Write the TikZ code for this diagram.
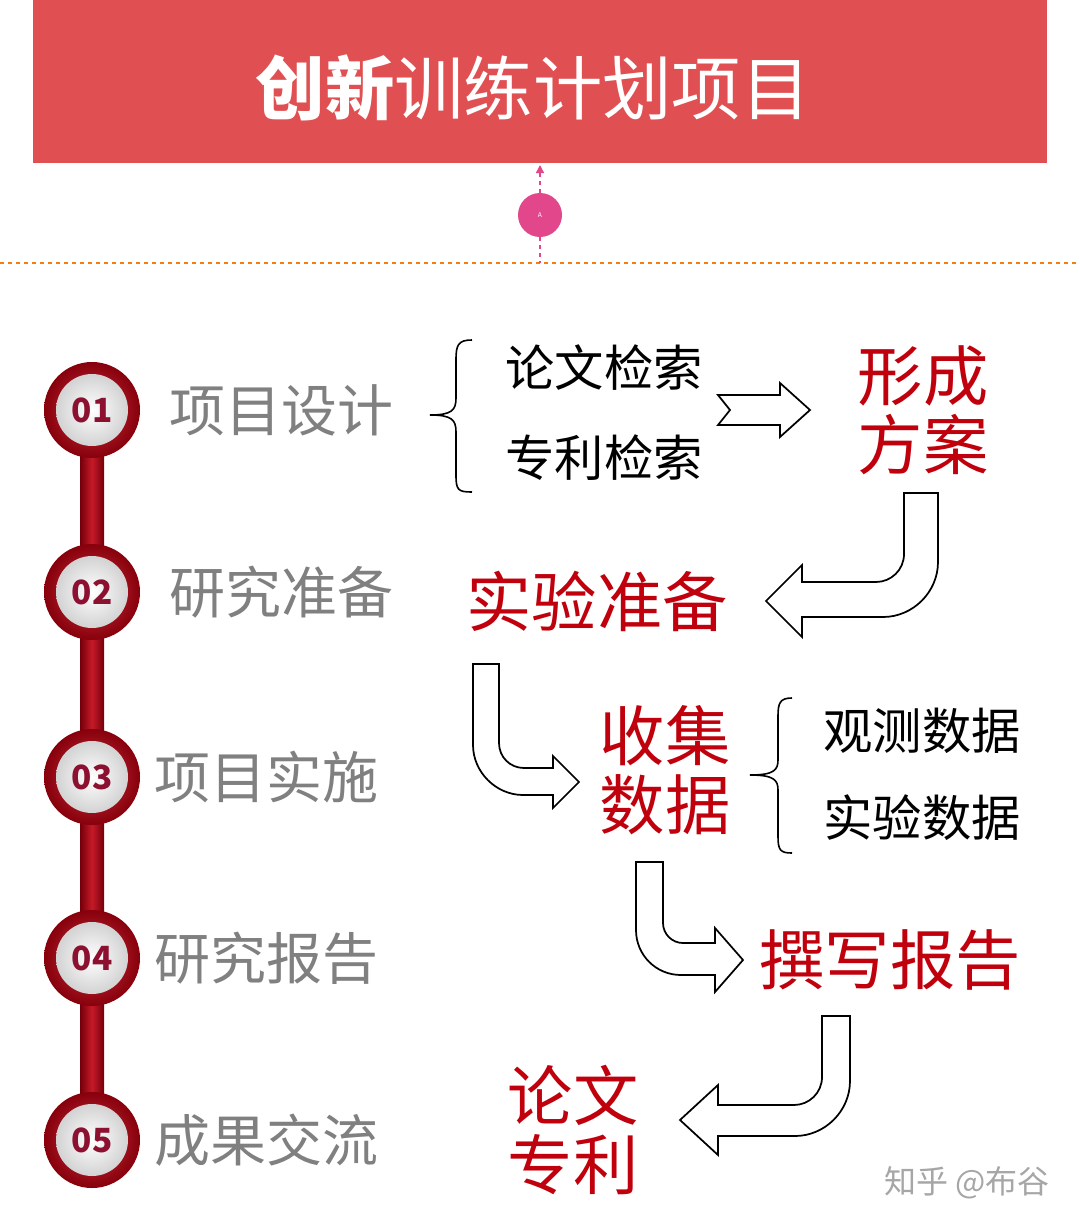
\documentclass[tikz,border=0pt]{standalone}
\usepackage{fontspec}
\setmainfont{Noto Sans CJK SC}
\usetikzlibrary{arrows.meta}
\definecolor{hdr}{HTML}{E05052}
\definecolor{dred}{HTML}{C00010}
\definecolor{tred}{HTML}{C0000C}
\definecolor{gtx}{HTML}{808080}
\definecolor{pinkc}{HTML}{E2478C}
\definecolor{numc}{HTML}{8C1030}
\tikzset{
 px/.style={x=0.75pt,y=-0.75pt},
 gray lbl/.style={text=gtx,font=\fontsize{42}{46}\selectfont,anchor=west},
 blk lbl/.style={text=black,font=\fontsize{37}{40}\selectfont},
 red lbl/.style={text=tred,font=\fontsize{49}{58}\selectfont,align=center},
 barrow/.style={draw=black,line width=1.3pt,fill=white,line join=miter},
 brc/.style={draw=black,line width=1.2pt},
}
\newcommand{\stepnode}[3]{%
 \shade[inner color=dred!80!white,outer color=dred!70!black] (92,#1) circle (48);
 \shade[inner color=white,outer color=gray!35] (92,#1) circle (36);
 \node[text=numc,font=\fontsize{25}{28}\selectfont\bfseries] (n#2) at (92,#1) {#3};
}
\begin{document}
\begin{tikzpicture}[px]
\useasboundingbox (0,0) rectangle (1080,1228);
\fill[white] (0,0) rectangle (1080,1228);
% header
\fill[hdr] (33,0) rectangle (1047,163);
\node[text=white,font=\fontsize{52}{56}\selectfont] (title) at (533,88) {\textbf{创新}训练计划项目};
\draw[orange!80!brown,dashed,line width=1pt] (0,263) -- (1080,263);
\node[circle,fill=pinkc,minimum size=33pt,inner sep=0pt,text=white,font=\tiny] (pc) at (540,215) {A};
\draw[pinkc,dashed,line width=1pt,-{Triangle[length=6pt,width=6pt]}] (pc.north) -- (540,165);
\draw[pinkc,dashed,line width=1pt] (pc.south) -- (540,263);
% timeline bar
\shade[left color=dred!60!black,right color=dred!60!black,middle color=dred!90!white] (80,410) rectangle (104,1140);
\stepnode{410}{1}{01}
\stepnode{592}{2}{02}
\stepnode{777}{3}{03}
\stepnode{958}{4}{04}
\stepnode{1140}{5}{05}
\node[gray lbl] (g1) at (165,410) {项目设计};
\node[gray lbl] (g2) at (165,592) {研究准备};
\node[gray lbl] (g3) at (150,777) {项目实施};
\node[gray lbl] (g4) at (150,958) {研究报告};
\node[gray lbl] (g5) at (150,1140) {成果交流};
% step 1
\draw[brc] (472,340) .. controls (458,340) and (456,345) .. (456,360) -- (456,398) .. controls (456,410) and (452,415) .. (430,415) .. controls (452,415) and (456,420) .. (456,432) -- (456,475) .. controls (456,490) and (458,492) .. (472,492);
\node[blk lbl] (b1) at (604,368) {论文检索};
\node[blk lbl] (b2) at (604,458) {专利检索};
\draw[barrow] (718,395) -- (780,395) -- (780,383) -- (810,410) -- (780,437) -- (780,425) -- (718,425) -- (730,410) -- cycle;
\node[red lbl] (r1) at (923,410) {形成\\[-6pt]方案};
% arrow 1
\draw[barrow] (938,493) -- (938,562) .. controls (938,592) and (913,617) .. (883,617) -- (802,617) -- (802,637) -- (766,601) -- (802,565) -- (802,582) -- (876,582) .. controls (891,582) and (904,570) .. (904,554) -- (904,493) -- cycle;
\node[red lbl] (r2) at (597,601) {实验准备};
% arrow 2
\draw[barrow] (473,664) -- (473,745) .. controls (473,772) and (496,795) .. (523,795) -- (553,795) -- (553,808) -- (579,782) -- (553,756) -- (553,768) -- (524,768) .. controls (510,768) and (499,757) .. (499,743) -- (499,664) -- cycle;
\node[red lbl] (r3) at (665,770) {收集\\[-6pt]数据};
\draw[brc] (792,698) .. controls (780,698) and (778,703) .. (778,716) -- (778,760) .. controls (778,770) and (774,775) .. (750,775) .. controls (774,775) and (778,780) .. (778,790) -- (778,836) .. controls (778,850) and (780,853) .. (792,853);
\node[blk lbl] (b3) at (922,731) {观测数据};
\node[blk lbl] (b4) at (922,818) {实验数据};
% arrow 3
\draw[barrow] (636,862) -- (636,930) .. controls (636,955) and (656,975) .. (681,975) -- (715,975) -- (715,992) -- (743,960) -- (715,928) -- (715,943) -- (683,943) .. controls (672,943) and (663,934) .. (663,923) -- (663,862) -- cycle;
\node[red lbl] (r4) at (890,960) {撰写报告};
% arrow 4
\draw[barrow] (850,1016) -- (850,1081) .. controls (850,1111) and (825,1136) .. (795,1136) -- (718,1136) -- (718,1155) -- (680,1120) -- (718,1085) -- (718,1105) -- (794,1105) .. controls (809,1105) and (822,1093) .. (822,1077) -- (822,1016) -- cycle;
\node[red lbl] (r5) at (573,1130) {论文\\[-6pt]专利};
% watermark
\node[text=gray!70,font=\fontsize{24}{26}\selectfont] (wm) at (967,1183) {知乎 @布谷};
\end{tikzpicture}
\end{document}
